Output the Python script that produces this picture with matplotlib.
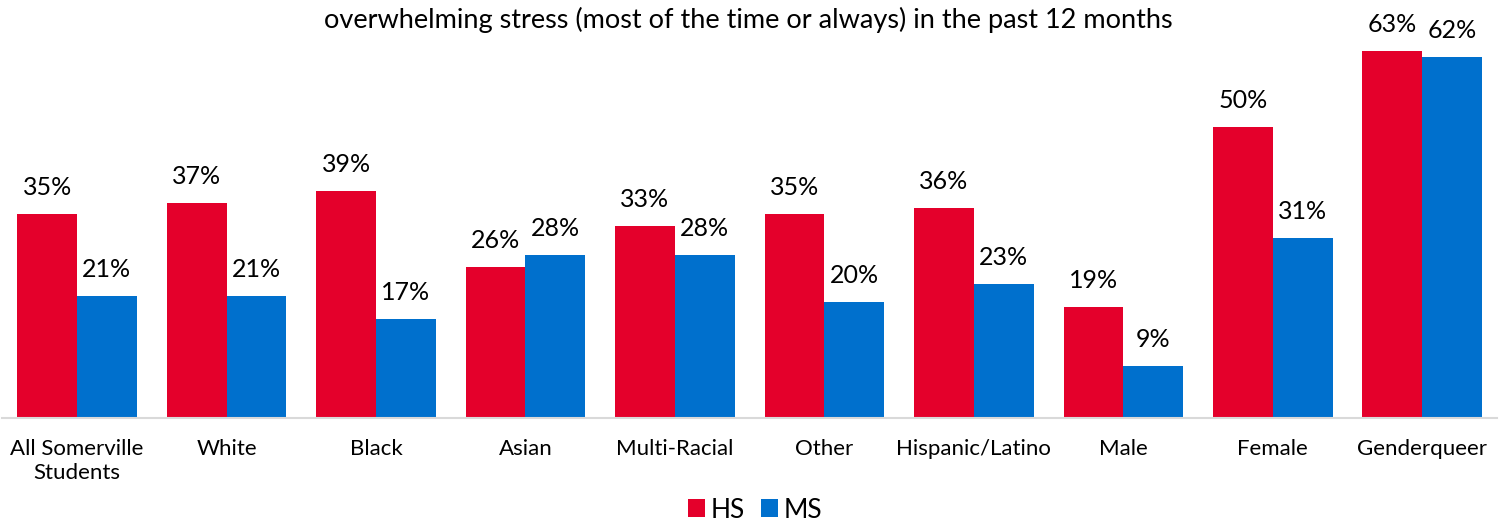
import matplotlib
matplotlib.use("Agg")
import matplotlib.pyplot as plt
import numpy as np

categories = ["All Somerville\nStudents", "White", "Black", "Asian", "Multi-Racial",
              "Other", "Hispanic/Latino", "Male", "Female", "Genderqueer"]
hs = [35, 37, 39, 26, 33, 35, 36, 19, 50, 63]
ms = [21, 21, 17, 28, 28, 20, 23, 9, 31, 62]
series_names = ["HS", "MS"]
title = "overwhelming stress (most of the time or always) in the past 12 months"

RED = "#E4002B"
BLUE = "#0070CD"
FONT = ["Lato", "DejaVu Sans"]
plt.rcParams["font.family"] = FONT

W, H = 1504, 522
fig = plt.figure(figsize=(W / 100, H / 100), dpi=100)
x0, x1 = 2.3, 1497
ybase = 418
ax = fig.add_axes([x0 / W, 1 - ybase / H, (x1 - x0) / W, ybase / H])

x = np.arange(len(categories))
bw = 0.4
b1 = ax.bar(x - bw / 2, hs, bw, color=RED, label=series_names[0])
b2 = ax.bar(x + bw / 2, ms, bw, color=BLUE, label=series_names[1])
ax.set_xlim(-0.5, len(categories) - 0.5)
ax.set_ylim(0, ybase / 5.82)

for bars, vals in ((b1, hs), (b2, ms)):
    for r, v in zip(bars, vals):
        ax.annotate(f"{v}%", (r.get_x() + r.get_width() / 2, r.get_height()),
                    xytext=(0, 15), textcoords="offset pixels",
                    ha="center", va="bottom", fontsize=18, color="black")

for s in ["top", "right", "left"]:
    ax.spines[s].set_visible(False)
ax.spines["bottom"].set_color("#D9D9D9")
ax.spines["bottom"].set_linewidth(1.5)
ax.set_yticks([])
ax.set_xticks(x)
ax.set_xticklabels(categories, fontsize=16, linespacing=1.25)
ax.tick_params(axis="x", length=0, pad=15)

fig.text(748 / W, 1 - 20 / H, title, ha="center", va="center", fontsize=19.5)

leg = fig.legend(handles=[b1, b2], labels=series_names, loc="center",
                 bbox_to_anchor=(755 / W, 1 - 510 / H), ncol=2, frameon=False,
                 fontsize=19, handlelength=0.65, handleheight=0.65,
                 handletextpad=0.2, columnspacing=0.6)

fig.savefig("out.png", dpi=100)
